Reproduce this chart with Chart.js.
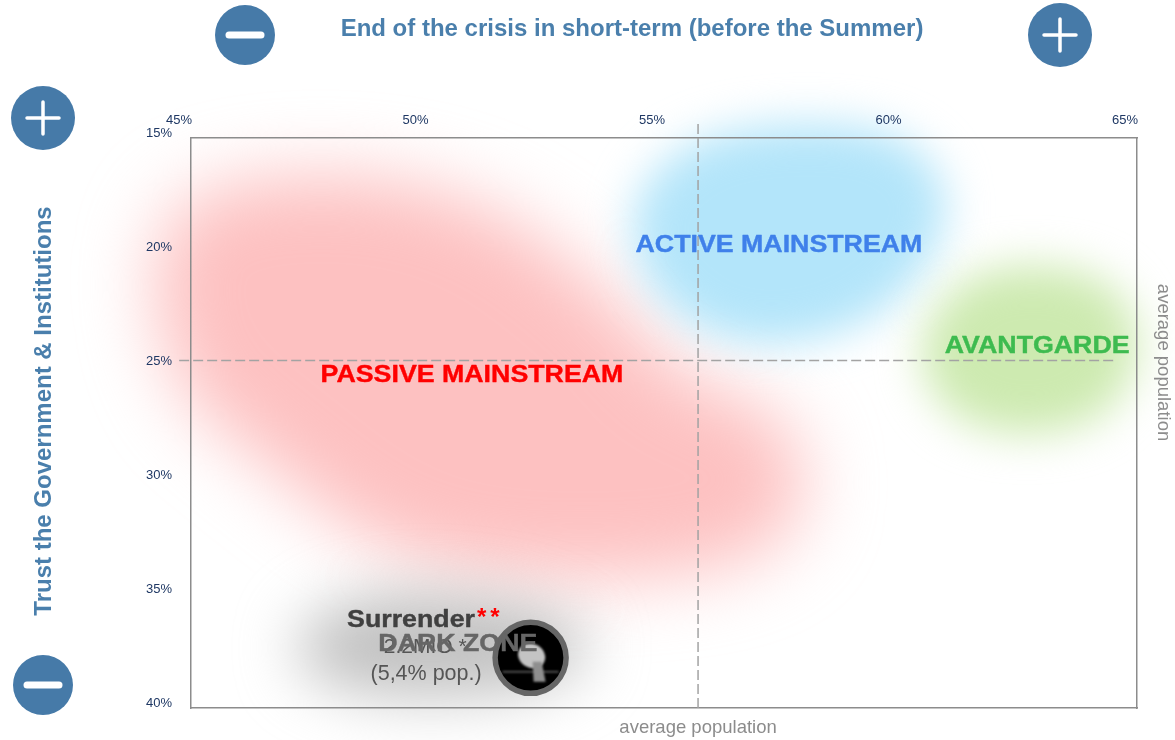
<!DOCTYPE html>
<html lang="en">
<head>
  <meta charset="UTF-8">
  <title>Crisis segments</title>
  <style>
    html, body { margin: 0; padding: 0; background: #fff; }
    canvas { display: block; }
  </style>
  <script src="https://cdn.jsdelivr.net/npm/chart.js"></script>
</head>
<body>
  <canvas id="myChart" width="1175" height="740"></canvas>
  <script>
    const xTicks = [45, 50, 55, 60, 65];
    const yTicks = [15, 20, 25, 30, 35, 40];

    // average lines
    const avgX = 55.72;
    const avgY = 24.76;
    const avgXLine = [{ x: avgX, y: 14.39 }, { x: avgX, y: 40.18 }];
    const avgYLine = [{ x: 44.75, y: avgY }, { x: 64.53, y: avgY }];

    // soft zones, outlines
    const passiveZone = [
      { x: 44.10, y: 17.90 }, { x: 47.30, y: 16.30 }, { x: 51.11, y: 17.40 }, { x: 54.07, y: 22.11 },
      { x: 55.34, y: 25.61 }, { x: 57.60, y: 26.93 }, { x: 58.20, y: 31.32 }, { x: 56.61, y: 34.10 },
      { x: 51.96, y: 34.50 }, { x: 49.00, y: 33.20 }, { x: 46.46, y: 29.12 }, { x: 44.40, y: 25.61 }
    ];
    const darkZone = [
      { x: 47.09, y: 37.02 }, { x: 48.15, y: 35.26 }, { x: 50.26, y: 34.82 }, { x: 52.80, y: 35.70 },
      { x: 53.60, y: 37.46 }, { x: 52.50, y: 39.21 }, { x: 49.42, y: 39.65 }, { x: 47.52, y: 38.77 }
    ];
    const activeZone = [
      { x: 54.20, y: 17.90 }, { x: 55.50, y: 15.00 }, { x: 57.88, y: 14.20 }, { x: 60.20, y: 14.80 },
      { x: 61.20, y: 17.90 }, { x: 60.20, y: 22.00 }, { x: 58.30, y: 24.00 }, { x: 56.18, y: 24.00 },
      { x: 54.60, y: 21.67 }
    ];
    const avantZone = [
      { x: 60.25, y: 24.30 }, { x: 61.15, y: 21.20 }, { x: 62.74, y: 20.40 }, { x: 64.55, y: 21.20 },
      { x: 65.20, y: 24.30 }, { x: 64.35, y: 27.40 }, { x: 62.53, y: 28.20 }, { x: 60.95, y: 27.20 }
    ];

    const darkMarker = [{ x: 52.18, y: 37.8, r: 35.5 }];

    const segmentLabels = [
      { text: 'ACTIVE MAINSTREAM', x: 57.43, y: 19.69, font: 'bold 24px "Liberation Sans"', color: '#3f80ea', wide: true },
      { text: 'PASSIVE MAINSTREAM', x: 50.94, y: 25.43, font: 'bold 24px "Liberation Sans"', color: '#ff0000', wide: true },
      { text: 'AVANTGARDE', x: 62.89, y: 24.12, font: 'bold 24px "Liberation Sans"', color: '#3dbb4f', wide: true },
      { text: '2.2MIO *', x: 49.95, y: 37.32, font: '21px "Liberation Sans"', color: '#555555' },
      { text: '(5,4% pop.)', x: 49.97, y: 38.53, font: '21.5px "Liberation Sans"', color: '#555555' },
      { text: 'DARK ZONE', x: 50.64, y: 37.23, font: 'bold 24px "Liberation Sans"', color: '#666666', wide: true }
    ];

    const BLUE = '#467aa8';

    const softZones = {
      id: 'softZones',
      beforeDraw(chart) {
        const ctx = chart.ctx;
        chart.data.datasets.forEach((ds, i) => {
          if (!ds.zoneColor) return;
          const pts = chart.getDatasetMeta(i).data;
          const n = pts.length;
          ctx.save();
          ctx.filter = 'blur(' + ds.zoneBlur + 'px)';
          ctx.fillStyle = ds.zoneColor;
          ctx.beginPath();
          ctx.moveTo((pts[n - 1].x + pts[0].x) / 2, (pts[n - 1].y + pts[0].y) / 2);
          pts.forEach((p, k) => {
            const q = pts[(k + 1) % n];
            ctx.quadraticCurveTo(p.x, p.y, (p.x + q.x) / 2, (p.y + q.y) / 2);
          });
          ctx.closePath();
          ctx.fill();
          ctx.restore();
        });
      }
    };

    function icon(ctx, cx, cy, r, plus) {
      ctx.fillStyle = BLUE;
      ctx.beginPath();
      ctx.arc(cx, cy, r, 0, Math.PI * 2);
      ctx.fill();
      ctx.strokeStyle = '#fff';
      ctx.lineCap = 'round';
      if (plus) {
        ctx.lineWidth = 3.5;
        ctx.beginPath();
        ctx.moveTo(cx - 16, cy); ctx.lineTo(cx + 16, cy);
        ctx.moveTo(cx, cy - 16); ctx.lineTo(cx, cy + 16);
        ctx.stroke();
      } else {
        ctx.lineWidth = 7;
        ctx.beginPath();
        ctx.moveTo(cx - 16, cy); ctx.lineTo(cx + 16, cy);
        ctx.stroke();
      }
    }

    // the big labels are stretched sideways and slightly heavy in the original
    function wideText(ctx, text, x, y) {
      ctx.save();
      ctx.translate(x, y);
      ctx.scale(1.115, 1);
      ctx.lineWidth = 0.4;
      ctx.strokeStyle = ctx.fillStyle;
      ctx.lineJoin = 'round';
      ctx.strokeText(text, 0, 0);
      ctx.fillText(text, 0, 0);
      ctx.restore();
    }

    const annotations = {
      id: 'annotations',
      afterDatasetsDraw(chart) {
        const ctx = chart.ctx;
        const sx = chart.scales.x;
        const sy = chart.scales.y;
        ctx.save();
        ctx.textAlign = 'center';
        ctx.textBaseline = 'middle';

        // bird in the dark zone marker
        const m = chart.getDatasetMeta(chart.data.datasets.findIndex(d => d.label === 'marker')).data[0];
        ctx.save();
        ctx.filter = 'blur(0.8px)';
        ctx.strokeStyle = '#999';
        ctx.lineWidth = 1;
        ctx.beginPath();
        ctx.moveTo(m.x - 28, m.y + 14); ctx.lineTo(m.x + 28, m.y + 14);
        ctx.stroke();
        ctx.fillStyle = '#c4c4c4';
        ctx.beginPath();
        ctx.ellipse(m.x + 1, m.y - 2, 14, 12, 0.5, 0, Math.PI * 2);
        ctx.fill();
        ctx.fillStyle = '#8f8f8f';
        ctx.beginPath();
        ctx.moveTo(m.x + 2, m.y + 4);
        ctx.lineTo(m.x + 11, m.y + 4);
        ctx.lineTo(m.x + 15, m.y + 24);
        ctx.lineTo(m.x + 3, m.y + 24);
        ctx.closePath();
        ctx.fill();
        ctx.restore();

        // Surrender with the red stars
        const sy0 = sy.getPixelForValue(36.14);
        const sx0 = sx.getPixelForValue(48.3);
        ctx.textAlign = 'left';
        ctx.font = 'bold 24px "Liberation Sans"';
        ctx.fillStyle = '#404040';
        wideText(ctx, 'Surrender', sx0, sy0);
        const w = ctx.measureText('Surrender').width * 1.115;
        ctx.fillStyle = '#ff0000';
        ctx.letterSpacing = '4px';
        ctx.fillText('**', sx0 + w + 2, sy0 - 2);
        ctx.letterSpacing = '0px';
        ctx.textAlign = 'center';

        segmentLabels.forEach(l => {
          ctx.font = l.font;
          ctx.fillStyle = l.color;
          const px = sx.getPixelForValue(l.x);
          const py = sy.getPixelForValue(l.y);
          if (l.wide) wideText(ctx, l.text, px, py);
          else ctx.fillText(l.text, px, py);
        });

        // titles around the plot
        ctx.font = 'bold 24px "Liberation Sans"';
        ctx.fillStyle = '#4a7fac';
        ctx.fillText('End of the crisis in short-term (before the Summer)', 632, 29);
        ctx.save();
        ctx.translate(44, 411);
        ctx.rotate(-Math.PI / 2);
        ctx.fillText('Trust the Government & Institutions', 0, 0);
        ctx.restore();

        ctx.font = '18.5px "Liberation Sans"';
        ctx.fillStyle = '#8c8c8c';
        ctx.fillText('average population', sx.getPixelForValue(avgX), 728);
        ctx.save();
        ctx.translate(1163, sy.getPixelForValue(avgY) + 2);
        ctx.rotate(Math.PI / 2);
        ctx.fillText('average population', 0, 0);
        ctx.restore();

        icon(ctx, 245, 35, 30, false);
        icon(ctx, 1060, 35, 32, true);
        icon(ctx, 43, 118, 32, true);
        icon(ctx, 43, 685, 30, false);
        ctx.restore();
      }
    };

    // fixed box for an axis, and no extra room for half labels
    function fixBox(ax, w, h) {
      if (w !== null) ax.width = w;
      if (h !== null) ax.height = h;
      ax.paddingLeft = ax.paddingRight = ax.paddingTop = ax.paddingBottom = 0;
    }

    const blank = v => '';

    const myChart = new Chart(document.getElementById('myChart').getContext('2d'), {
      type: 'scatter',
      data: {
        datasets: [
          { label: 'passive', data: passiveZone, pointRadius: 0, showLine: false, zoneColor: '#fdc1c1', zoneBlur: 36 },
          { label: 'dark', data: darkZone, pointRadius: 0, showLine: false, zoneColor: '#c0c0c0', zoneBlur: 30 },
          { label: 'active', data: activeZone, pointRadius: 0, showLine: false, zoneColor: '#b3e5fa', zoneBlur: 22 },
          { label: 'avant', data: avantZone, pointRadius: 0, showLine: false, zoneColor: '#cdeab0', zoneBlur: 22 },
          { label: 'avgX', data: avgXLine, showLine: true, pointRadius: 0, borderColor: '#a3a3a3', borderWidth: 1.5, borderDash: [10, 4], clip: false },
          { label: 'avgY', data: avgYLine, showLine: true, pointRadius: 0, borderColor: '#a3a3a3', borderWidth: 1.5, borderDash: [10, 4], clip: false },
          { type: 'bubble', label: 'marker', data: darkMarker, backgroundColor: '#000', borderColor: '#666', borderWidth: 5.5, clip: false }
        ]
      },
      options: {
        responsive: false,
        animation: false,
        events: [],
        layout: { autoPadding: false, padding: { right: 38, bottom: 32 } },
        plugins: { legend: { display: false }, tooltip: { enabled: false } },
        scales: {
          x: {
            type: 'linear',
            position: 'top',
            min: 45,
            max: 65,
            grid: { display: false, drawTicks: false },
            border: { color: '#8c8c8c', width: 1.5 },
            afterBuildTicks: ax => { ax.ticks = xTicks.map(v => ({ value: v })); },
            afterFit: ax => fixBox(ax, null, 138),
            ticks: {
              callback: v => v + '%',
              color: '#1f3864',
              font: { family: 'Liberation Sans', size: 13 },
              maxRotation: 0,
              autoSkip: false,
              labelOffset: -12,
              padding: 10
            }
          },
          y: {
            type: 'linear',
            position: 'left',
            reverse: true,
            min: 15,
            max: 40,
            grid: { display: false, drawTicks: false },
            border: { color: '#8c8c8c', width: 1.5 },
            afterBuildTicks: ax => { ax.ticks = yTicks.map(v => ({ value: v })); },
            afterFit: ax => fixBox(ax, 191, null),
            ticks: {
              callback: v => v + '%',
              color: '#1f3864',
              font: { family: 'Liberation Sans', size: 13 },
              autoSkip: false,
              labelOffset: -5,
              padding: 19
            }
          },
          x2: {
            type: 'linear',
            position: 'bottom',
            min: 45,
            max: 65,
            grid: { display: false, drawTicks: false },
            border: { color: '#8c8c8c', width: 1.5 },
            ticks: { display: false, callback: blank },
            afterFit: ax => fixBox(ax, null, 0)
          },
          y2: {
            type: 'linear',
            position: 'right',
            min: 15,
            max: 40,
            grid: { display: false, drawTicks: false },
            border: { color: '#8c8c8c', width: 1.5 },
            ticks: { display: false, callback: blank },
            afterFit: ax => fixBox(ax, 0, null)
          }
        }
      },
      plugins: [softZones, annotations]
    });
  </script>
</body>
</html>
